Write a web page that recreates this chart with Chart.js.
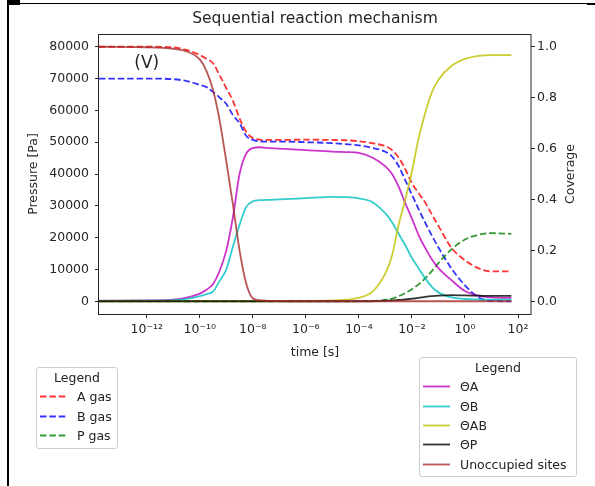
<!DOCTYPE html>
<html>
<head>
<meta charset="utf-8">
<script src="https://cdn.jsdelivr.net/npm/chart.js@4.4.0/dist/chart.umd.min.js"></script>
<style>
  html, body { margin: 0; padding: 0; background: #fff; }
  #wrap { position: relative; width: 595px; height: 486px; overflow: hidden; font-family: "DejaVu Sans", sans-serif; color: #222; }
  #myChart { position: absolute; left: 0; top: 0; }
  .bar { position: absolute; background: #000; }
  .legend { position: absolute; box-sizing: border-box; background: rgba(255,255,255,0.8); border: 1px solid #cccccc; border-radius: 3px; font-size: 12.5px; }
  .ltitle { height: 19.3px; line-height: 19.3px; text-align: center; }
  .lrow { height: 19.3px; display: flex; align-items: center; white-space: nowrap; }
  .lrow svg { flex: none; }
  .lrow span { margin-left: 8px; }
</style>
</head>
<body>
<div id="wrap">
  <canvas id="myChart" width="595" height="486"></canvas>
  <div class="bar" style="left:7px;top:0;width:2px;height:486px"></div>
  <div class="bar" style="left:7px;top:0;width:13px;height:5px"></div>
  <div class="bar" style="left:7px;top:3px;width:580px;height:1px"></div>
  <div class="bar" style="left:587px;top:3px;width:8px;height:2px"></div>
  <div class="legend" id="gasLegend" style="left:36px;top:367px;width:82px;height:82px"></div>
  <div class="legend" id="covLegend" style="left:419px;top:357px;width:158px;height:120px"></div>
</div>
<script>
// time grid (s), read along the log axis
const timeS = [1.58e-14, 1e-12, 1e-11, 3.16e-11, 1e-10, 1.78e-10, 3.16e-10, 5.62e-10, 1e-9, 1.78e-9,
  3.16e-9, 5.62e-9, 1e-8, 1.78e-8, 3.16e-8, 1e-7, 1e-6, 1e-5, 3.16e-5, 1e-4,
  3.16e-4, 1e-3, 1.78e-3, 3.16e-3, 5.62e-3, 1e-2, 1.78e-2, 3.16e-2, 5.62e-2, 0.1,
  0.316, 1, 3.16, 10, 56.2];

// gas pressures [Pa]
const aGas = [80000, 80000, 79800, 79000, 77400, 76200, 74800, 71000, 67000, 63000,
  57500, 53300, 51300, 50800, 50700, 50700, 50800, 50700, 50600, 50300,
  49700, 48700, 47500, 45200, 41500, 37100, 34000, 31000, 27300, 23700,
  16700, 12900, 10400, 9400, 9400];
const bGas = [70000, 70000, 69800, 69200, 68000, 67300, 65800, 64000, 62000, 58500,
  56000, 52000, 50700, 50300, 50200, 50200, 50000, 49700, 49400, 49000,
  48200, 47000, 45500, 42500, 38000, 33500, 29000, 24700, 20700, 16900,
  10200, 5000, 1300, 100, 0];
const pGas = [0, 0, 0, 0, 0, 0, 0, 0, 0, 0,
  0, 0, 0, 0, 0, 0, 0, 0, 0, 20,
  100, 450, 800, 1600, 2600, 3800, 5300, 7200, 9500, 12000,
  16400, 19400, 20900, 21400, 21200];

// surface coverages
const thetaA = [0.002, 0.003, 0.006, 0.014, 0.03, 0.045, 0.068, 0.12, 0.2, 0.33,
  0.5, 0.58, 0.602, 0.605, 0.603, 0.6, 0.594, 0.588, 0.586, 0.583,
  0.565, 0.53, 0.5, 0.45, 0.385, 0.325, 0.26, 0.21, 0.165, 0.13,
  0.082, 0.04, 0.022, 0.015, 0.013];
const thetaB = [0.001, 0.002, 0.004, 0.009, 0.02, 0.028, 0.038, 0.08, 0.125, 0.215,
  0.3, 0.37, 0.393, 0.397, 0.398, 0.4, 0.405, 0.41, 0.409, 0.404,
  0.39, 0.345, 0.31, 0.265, 0.22, 0.17, 0.13, 0.09, 0.057, 0.035,
  0.015, 0.009, 0.007, 0.006, 0.006];
const thetaAB = [0, 0, 0, 0, 0, 0, 0, 0, 0, 0,
  0, 0, 0, 0, 0, 0, 0.001, 0.003, 0.006, 0.014,
  0.037, 0.11, 0.18, 0.3, 0.4, 0.51, 0.64, 0.74, 0.82, 0.87,
  0.925, 0.952, 0.964, 0.967, 0.967];
const thetaP = [0, 0, 0, 0, 0, 0, 0, 0, 0, 0,
  0, 0, 0, 0, 0, 0, 0, 0, 0, 0,
  0, 0.002, 0.003, 0.005, 0.007, 0.01, 0.013, 0.017, 0.02, 0.022,
  0.024, 0.023, 0.022, 0.021, 0.021];
const unoccupied = [1.0, 0.998, 0.992, 0.982, 0.95, 0.905, 0.83, 0.71, 0.55, 0.38,
  0.2, 0.07, 0.012, 0.004, 0.002, 0.001, 0, 0, 0, 0,
  0, 0, 0, 0, 0, 0, 0, 0, 0, 0,
  0, 0, 0, 0, 0];

const gasLabels = ['A gas', 'B gas', 'P gas'];
const gasColors = ['rgba(255,0,0,0.8)', 'rgba(0,0,255,0.8)', 'rgba(0,128,0,0.8)'];
const coverageLabels = ['ΘA', 'ΘB', 'ΘAB', 'ΘP', 'Unoccupied sites'];
const coverageColors = ['rgba(191,0,191,0.8)', 'rgba(0,191,191,0.8)', 'rgba(191,191,0,0.8)',
  'rgba(0,0,0,0.8)', 'rgba(165,42,42,0.8)'];

const timeTicks = [1e-12, 1e-10, 1e-8, 1e-6, 1e-4, 1e-2, 1, 100];
const timeTickLabels = ['10⁻¹²', '10⁻¹⁰', '10⁻⁸', '10⁻⁶', '10⁻⁴', '10⁻²', '10⁰', '10²'];
const pressureTicks = [0, 10000, 20000, 30000, 40000, 50000, 60000, 70000, 80000];
const coverageTicks = [0, 0.2, 0.4, 0.6, 0.8, 1.0];

const FONT = "'DejaVu Sans', sans-serif";
const INK = '#262626';
const DASH = [6.5, 2.9];

function toPoints(vals) {
    return vals.map((v, i) => ({x: timeS[i], y: v}));
}

const gasSeries = [aGas, bGas, pGas];
const coverageSeries = [thetaA, thetaB, thetaAB, thetaP, unoccupied];

const datasets = [];
gasSeries.forEach((s, i) => datasets.push({
    label: gasLabels[i], data: toPoints(s), yAxisID: 'y',
    borderColor: gasColors[i], borderDash: DASH
}));
coverageSeries.forEach((s, i) => datasets.push({
    label: coverageLabels[i], data: toPoints(s), yAxisID: 'y1',
    borderColor: coverageColors[i]
}));
// later lines on top, like the original plot order
datasets.forEach((d, i) => {
    d.order = 20 - i;
    d.borderWidth = 1.8;
    d.pointRadius = 0;
    d.fill = false;
    d.cubicInterpolationMode = 'monotone';
});

const extras = {
    id: 'extras',
    afterDraw(chart) {
        const {ctx, chartArea: a, scales} = chart;
        ctx.save();
        ctx.strokeStyle = INK;
        ctx.lineWidth = 1;
        ctx.strokeRect(a.left - 0.5, a.top + 0.5, a.right - a.left + 0.5, a.bottom - a.top);
        ctx.fillStyle = INK;
        ctx.font = "17px " + FONT;
        ctx.textAlign = 'center';
        ctx.textBaseline = 'middle';
        ctx.fillText('(V)', scales.x.getPixelForValue(1e-12), scales.y.getPixelForValue(74800));
        ctx.font = "12.5px " + FONT;
        ctx.translate(571, (a.top + a.bottom) / 2);
        ctx.rotate(-Math.PI / 2);
        ctx.fillText('Coverage', 0, 0);
        ctx.restore();
    }
};

const tickFont = {family: FONT, size: 12.5};
const tickGrid = {drawOnChartArea: false, drawTicks: true, tickLength: 4, color: INK, lineWidth: 1};

const config = {
    type: 'line',
    data: {datasets: datasets},
    options: {
        responsive: false,
        animation: false,
        devicePixelRatio: 1,
        layout: {padding: {left: 0, right: 0, top: 0, bottom: 124}},
        plugins: {
            legend: {display: false},
            tooltip: {enabled: false},
            title: {
                display: true, text: 'Sequential reaction mechanism', fullSize: false,
                color: INK, font: {family: FONT, size: 15.5, weight: 'normal', lineHeight: 1.2},
                padding: {top: 9.5, bottom: 5.9}
            }
        },
        scales: {
            x: {
                type: 'logarithmic', position: 'bottom',
                min: 1.585e-14, max: 309, bounds: 'data',
                afterBuildTicks: s => { s.ticks = timeTicks.map(v => ({value: v})); },
                afterFit: s => { s.height = 48; },
                ticks: {autoSkip: false, maxRotation: 0, padding: 4, color: INK, font: tickFont,
                    callback: (v, i) => timeTickLabels[i]},
                grid: tickGrid,
                border: {display: false},
                title: {display: true, text: 'time [s]', color: INK, font: tickFont, padding: {top: 0, bottom: 1.5}}
            },
            y: {
                type: 'linear', position: 'left', min: -4000, max: 84000,
                afterBuildTicks: s => { s.ticks = pressureTicks.map(v => ({value: v})); },
                afterFit: s => { s.width = 99; },
                ticks: {padding: 6, color: INK, font: tickFont, callback: v => String(v)},
                grid: tickGrid,
                border: {display: false},
                title: {display: true, text: 'Pressure [Pa]', color: INK, font: tickFont, padding: {top: 26.5, bottom: 0}}
            },
            y1: {
                type: 'linear', position: 'right', min: -0.05, max: 1.05,
                afterBuildTicks: s => { s.ticks = coverageTicks.map(v => ({value: v})); },
                afterFit: s => { s.width = 64; },
                ticks: {padding: 2, color: INK, font: tickFont, callback: v => v.toFixed(1)},
                grid: tickGrid,
                border: {display: false}
            }
        }
    },
    plugins: [extras]
};

var myChart = new Chart(document.getElementById('myChart'), config);

function buildLegend(id, labels, colors, dashed) {
    const box = document.getElementById(id);
    const title = document.createElement('div');
    title.className = 'ltitle';
    title.textContent = 'Legend';
    box.appendChild(title);
    labels.forEach((lab, i) => {
        const row = document.createElement('div');
        row.className = 'lrow';
        const dash = dashed ? ' stroke-dasharray="' + DASH.join(' ') + '"' : '';
        row.innerHTML = '<svg width="32" height="19"><line x1="3" y1="9.5" x2="30" y2="9.5" stroke="' +
            colors[i] + '" stroke-width="1.8"' + dash + '/></svg>';
        const span = document.createElement('span');
        span.textContent = lab;
        row.appendChild(span);
        box.appendChild(row);
    });
}

buildLegend('gasLegend', gasLabels, gasColors, true);
buildLegend('covLegend', coverageLabels, coverageColors, false);
</script>
</body>
</html>
